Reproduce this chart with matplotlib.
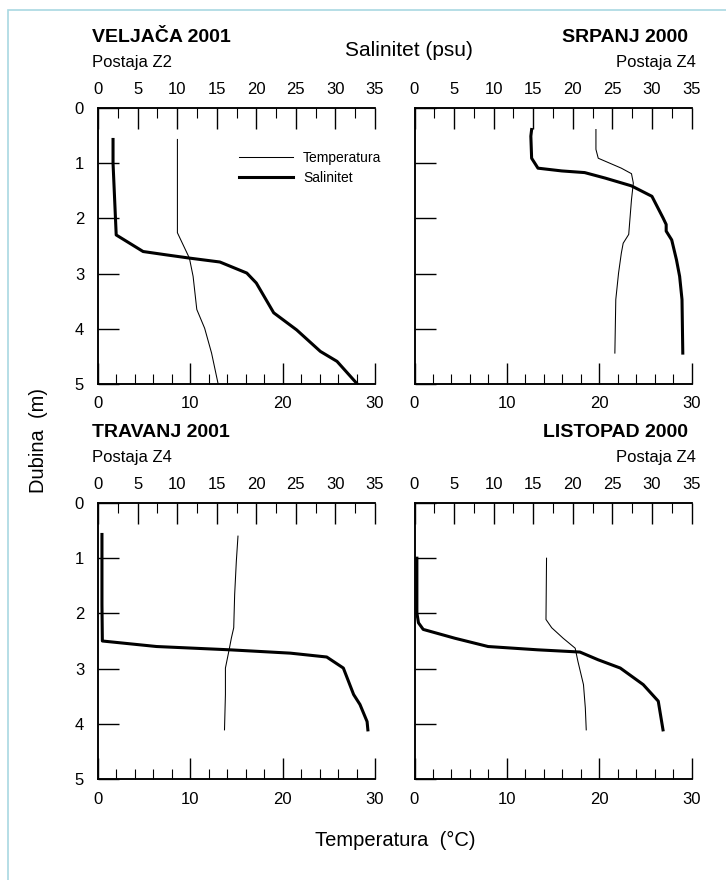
"""
Vertikalni profili temperature i saliniteta - 4 mjerenja (postaje Z2, Z4)
"""

import matplotlib.pyplot as plt
from matplotlib.patches import Rectangle
from matplotlib.ticker import MultipleLocator

plt.rcParams["font.family"] = ["Liberation Sans", "DejaVu Sans"]

W, H = 726, 880

# ── Podaci (ocitano sa slike) ─────────────────────────────────────────────
# VELJACA 2001, postaja Z2
velj_sal_d = [0.57, 1.0, 2.3, 2.6, 2.66, 2.72, 2.79, 2.99, 3.17, 3.71, 4.02, 4.41, 4.59, 4.99]
velj_sal   = [1.9, 1.9, 2.3, 5.7, 8.6, 11.6, 15.4, 18.8, 20.0, 22.2, 25.1, 28.1, 30.2, 32.7]
velj_tmp_d = [0.57, 2.26, 2.72, 3.05, 3.65, 3.99, 4.44, 4.99]
velj_tmp   = [8.6, 8.6, 9.9, 10.3, 10.7, 11.55, 12.3, 13.0]

# SRPANJ 2000, postaja Z4
srp_sal_d = [0.39, 0.51, 0.91, 1.09, 1.14, 1.17, 1.27, 1.41, 1.6, 1.99, 2.11, 2.23, 2.39, 2.75, 3.05, 3.47, 4.44]
srp_sal   = [14.8, 14.7, 14.8, 15.6, 18.6, 21.5, 24.1, 27.4, 30.0, 31.4, 31.8, 31.8, 32.5, 33.1, 33.5, 33.8, 33.9]
srp_tmp_d = [0.39, 0.75, 0.91, 1.09, 1.19, 1.36, 1.66, 2.29, 2.45, 2.63, 2.99, 3.47, 4.44]
srp_tmp   = [19.65, 19.65, 19.9, 22.4, 23.5, 23.7, 23.5, 23.2, 22.6, 22.4, 22.1, 21.8, 21.7]

# TRAVANJ 2001, postaja Z4
trav_sal_d = [0.57, 1.84, 2.5, 2.6, 2.66, 2.72, 2.79, 2.99, 3.47, 3.65, 3.96, 4.11]
trav_sal   = [0.5, 0.5, 0.55, 7.4, 16.7, 24.3, 28.9, 31.0, 32.3, 33.1, 34.0, 34.1]
trav_tmp_d = [0.6, 1.06, 1.66, 2.26, 2.45, 2.66, 2.99, 3.47, 4.11]
trav_tmp   = [15.16, 14.98, 14.8, 14.7, 14.44, 14.2, 13.8, 13.8, 13.7]

# LISTOPAD 2000, postaja Z4
list_sal_d = [1.0, 1.99, 2.17, 2.29, 2.45, 2.6, 2.66, 2.7, 2.84, 2.99, 3.29, 3.59, 4.11]
list_sal   = [0.3, 0.3, 0.5, 1.1, 5.1, 9.3, 15.6, 20.9, 23.2, 26.0, 28.9, 30.8, 31.4]
list_tmp_d = [1.0, 2.11, 2.26, 2.45, 2.63, 2.87, 3.29, 3.71, 4.11]
list_tmp   = [14.3, 14.24, 14.86, 16.1, 17.4, 17.7, 18.3, 18.5, 18.6]

panels = [
    # (naslov, postaja, lijevo/desno, x0 px, y0 px, temp, sal)
    ("VELJAČA 2001", "Postaja Z2", "left", 98, 108, (velj_tmp, velj_tmp_d), (velj_sal, velj_sal_d)),
    ("SRPANJ 2000", "Postaja Z4", "right", 414.5, 108, (srp_tmp, srp_tmp_d), (srp_sal, srp_sal_d)),
    ("TRAVANJ 2001", "Postaja Z4", "left", 98, 503, (trav_tmp, trav_tmp_d), (trav_sal, trav_sal_d)),
    ("LISTOPAD 2000", "Postaja Z4", "right", 414.5, 503, (list_tmp, list_tmp_d), (list_sal, list_sal_d)),
]

PW, PH = 277, 276   # velicina panela u pikselima
TICK_FS = 12


def fx(px):
    return px / W


def fy(py):
    return 1 - py / H


fig = plt.figure(figsize=(W / 100, H / 100), dpi=100)

# svijetloplavi okvir
fig.add_artist(Rectangle((fx(7.5), -0.1), 1.2, fy(10) + 0.1, transform=fig.transFigure,
                         fill=False, edgecolor="#a9d8e2", linewidth=1.2, zorder=-10))

for title, station, side, x0, y0, (tmp, tmp_d), (sal, sal_d) in panels:
    ax = fig.add_axes([fx(x0), fy(y0 + PH), PW / W, PH / H])
    ax2 = ax.twiny()

    ln_t, = ax.plot(tmp, tmp_d, color="black", linewidth=0.75)
    ln_s, = ax2.plot(sal, sal_d, color="black", linewidth=2.2)

    ax.set_xlim(0, 30)
    ax.set_ylim(5, 0)
    ax2.set_xlim(0, 35)

    for a in (ax, ax2):
        a.spines["right"].set_visible(False)
        for s in ("left", "top", "bottom"):
            a.spines[s].set_linewidth(1.1)

    # temperatura (dolje)
    ax.xaxis.set_major_locator(MultipleLocator(10))
    ax.xaxis.set_minor_locator(MultipleLocator(2))
    ax.tick_params(axis="x", which="major", direction="in", length=15, width=1.0,
                   pad=9, labelsize=TICK_FS)
    ax.tick_params(axis="x", which="minor", direction="in", length=7.5, width=0.8)
    # dubina (lijevo) - oznake samo na lijevim panelima
    ax.yaxis.set_major_locator(MultipleLocator(1))
    ax.tick_params(axis="y", direction="in", length=15, width=1.0, pad=10,
                   labelsize=TICK_FS, right=False, labelleft=(side == "left"))
    # salinitet (gore)
    ax2.xaxis.set_major_locator(MultipleLocator(5))
    ax2.xaxis.set_minor_locator(MultipleLocator(2.5))
    ax2.tick_params(axis="x", which="major", direction="in", length=15, width=1.0,
                    pad=8, labelsize=TICK_FS)
    ax2.tick_params(axis="x", which="minor", direction="in", length=7.5, width=0.8)

    if side == "left":
        fig.text(fx(92), fy(y0 - 71), title, fontsize=14, fontweight="bold",
                 ha="left", va="center")
        fig.text(fx(92), fy(y0 - 46), station, fontsize=12, ha="left", va="center")
    else:
        fig.text(fx(688), fy(y0 - 71), title, fontsize=14, fontweight="bold",
                 ha="right", va="center")
        fig.text(fx(696), fy(y0 - 46), station, fontsize=12, ha="right", va="center")

    if title.startswith("VELJA"):
        ax.legend([ln_t, ln_s], ["Temperatura", "Salinitet"], loc="upper left",
                  bbox_to_anchor=(0.51, 0.845), frameon=False, fontsize=10,
                  handlelength=3.9, handletextpad=0.7, labelspacing=0.45,
                  borderpad=0, borderaxespad=0)

fig.text(fx(409), fy(50), "Salinitet (psu)", fontsize=15, ha="center", va="center")
fig.text(fx(395), fy(840), "Temperatura  (°C)", fontsize=14.5, ha="center", va="center")
fig.text(fx(38), fy(440), "Dubina  (m)", fontsize=14.5, ha="center", va="center",
         rotation=90)

plt.savefig("out.png", dpi=100)
